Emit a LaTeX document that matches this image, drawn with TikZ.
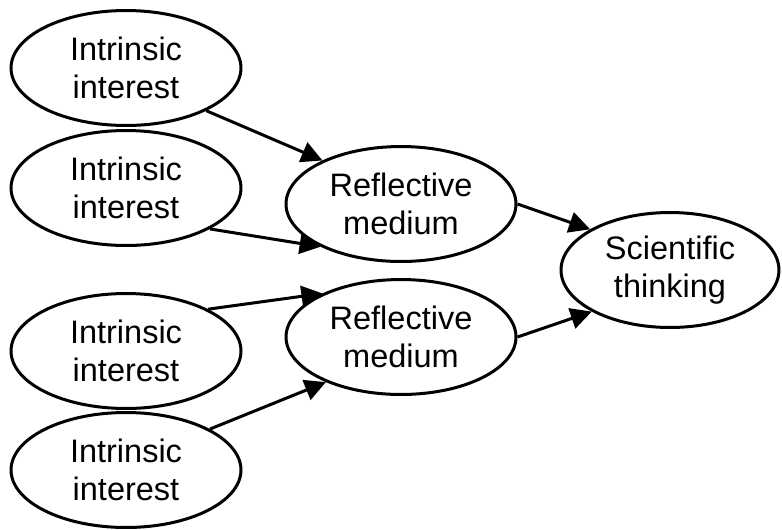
\documentclass[tikz,border=0pt]{standalone}
\usepackage{fontspec}
\setmainfont{Liberation Sans}
\usepackage{tikz}
\usetikzlibrary{shapes.geometric, arrows.meta}

\begin{document}
\begin{tikzpicture}[x=0.02cm, y=-0.02cm,
  bubble/.style={ellipse, draw, black, line width=0.06cm, inner sep=0pt,
    minimum width=4.6cm, minimum height=2.3cm, align=center,
    font=\fontsize{18.5}{21.6}\selectfont},
  link/.style={-{Triangle[length=0.42cm, width=0.42cm]}, line width=0.06cm, black}]
\useasboundingbox (0, 0) rectangle (782, 529);
\node [bubble] (ii1) at (126, 68) {Intrinsic\\interest};
\node [bubble] (ii2) at (126, 188) {Intrinsic\\interest};
\node [bubble] (ii3) at (126, 351) {Intrinsic\\interest};
\node [bubble] (ii4) at (126, 470) {Intrinsic\\interest};
\node [bubble] (rm1) at (401, 204) {Reflective\\medium};
\node [bubble] (rm2) at (401, 337) {Reflective\\medium};
\node [bubble, minimum width=4.36cm] (st) at (670, 270) {Scientific\\thinking};
\draw [link] (ii1.-28) -- (rm1.151);
\draw [link] (ii2.-26) -- (rm1.208);
\draw [link] (ii3.27) -- (rm2.151);
\draw [link] (ii4.26) -- (rm2.211);
\draw [link] (rm1.0) -- (st.153);
\draw [link] (rm2.0) -- (st.208);
\end{tikzpicture}
\end{document}
